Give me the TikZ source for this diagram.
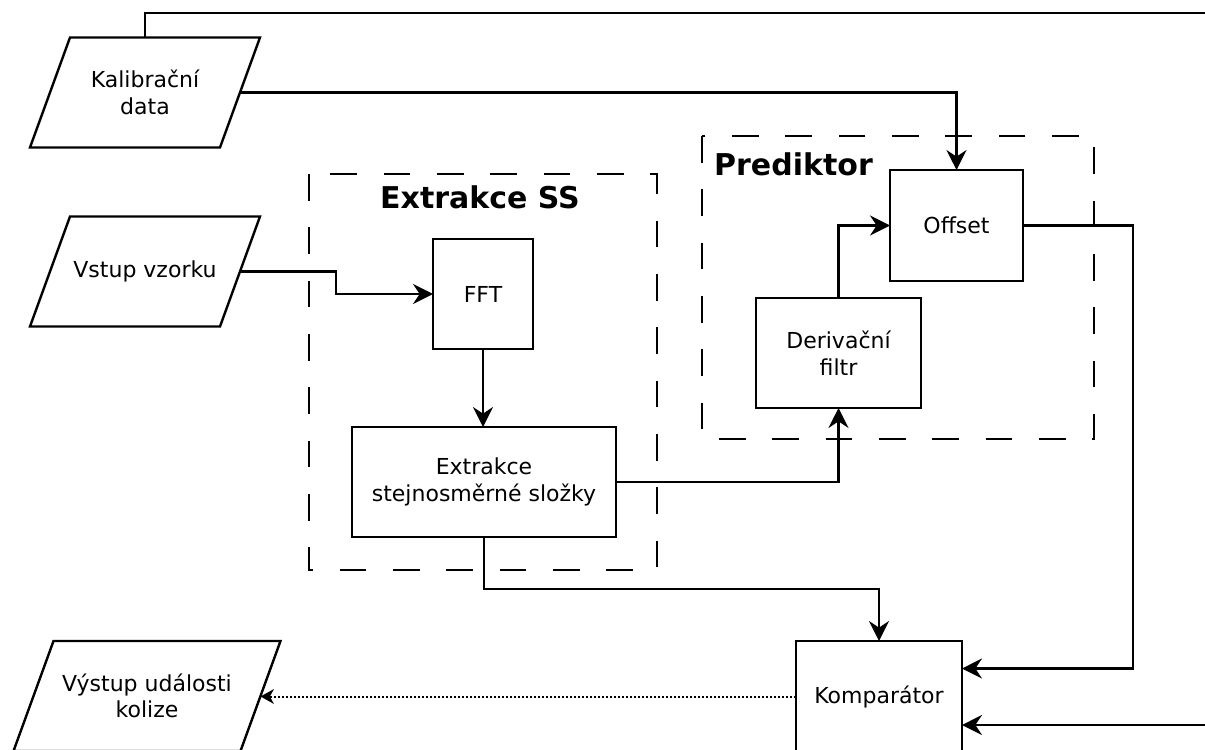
\documentclass[tikz,border=0pt]{standalone}
\usepackage{fontspec}
\setmainfont{DejaVu Sans}
\usetikzlibrary{arrows.meta,calc}
\begin{document}
\begin{tikzpicture}[x=0.75pt,y=-0.75pt,
  line width=1.8pt,
  txt/.style={font=\fontsize{16.5}{20}\selectfont, align=center, inner sep=0pt, outer sep=0pt},
  box/.style={txt, draw, rectangle},
  para/.style={txt, rectangle, draw=none, minimum width=142.5pt, minimum height=82.5pt},
  group/.style={dash pattern=on 20pt off 20pt},
  title/.style={font=\fontsize{22.5}{27}\selectfont\bfseries, inner sep=0pt},
  arr/.style={-{Stealth[length=15pt,width=15pt,inset=5pt]}},
  darr/.style={dash pattern=on 1.5pt off 1.5pt, line width=1.5pt, -{Stealth[length=10pt,width=11pt,inset=3pt]}}
]
\useasboundingbox (0,0) rectangle (1205,749);
\clip (0,0) rectangle (1205,749);

% group containers
\draw[group] (309,174) rectangle (657,570);
\draw[group] (702,136) rectangle (1094,439);
\node[title, anchor=base] (tss) at (480,208) {Extrakce SS};
\node[title, anchor=base west] (tpr) at (713,175) {Prediktor};

% parallelogram nodes
\node[para] (kal) at (145,92.5) {Kalibrační\\data};
\node[para] (vst) at (145,271.5) {Vstup vzorku};
\node[para, minimum width=170.25pt] (vys) at (147,696) {Výstup události\\kolize};
\foreach \n in {kal,vst,vys}{
  \draw ($(\n.north west)+(20,0)$) -- ($(\n.north east)+(20,0)$)
     -- ($(\n.south east)+(-20,0)$) -- ($(\n.south west)+(-20,0)$) -- cycle;
}

% boxes
\node[box, minimum width=75pt, minimum height=82.5pt] (fft) at (483,294) {FFT};
\node[box, minimum width=198pt, minimum height=82.5pt] (ext) at (484,482) {Extrakce\\stejnosměrné složky};
\node[box, minimum width=123.75pt, minimum height=82.5pt] (der) at (838.5,353) {Derivační\\filtr};
\node[box, minimum width=99.75pt, minimum height=83.25pt] (off) at (956.5,225.5) {Offset};
\node[box, minimum width=124.5pt, minimum height=83.25pt] (kom) at (879,696.5) {Komparátor};

% free ends
\coordinate (topR) at (1215,13);
\coordinate (botR) at (1215,725);

% connectors
\draw (kal.north) |- (topR);
\draw[arr] (kal.east) -| (off.north);
\draw[arr] (vst.east) -- ++(96,0) |- (fft.west);
\draw[arr] (fft.south) -- (fft.south |- ext.north);
\draw[arr] (ext.east) -| (der.south);
\draw[arr] (der.north) |- (off.west);
\draw[arr] (off.east) -- ++(110,0) |- ($(kom.east)+(0,-28)$);
\draw[arr] (botR) -- (botR -| kom.east);
\draw[arr] (ext.south) -- ++(0,52) -| (kom.north);
\draw[darr] (kom.west) -- (kom.west -| vys.east);
\end{tikzpicture}
\end{document}
